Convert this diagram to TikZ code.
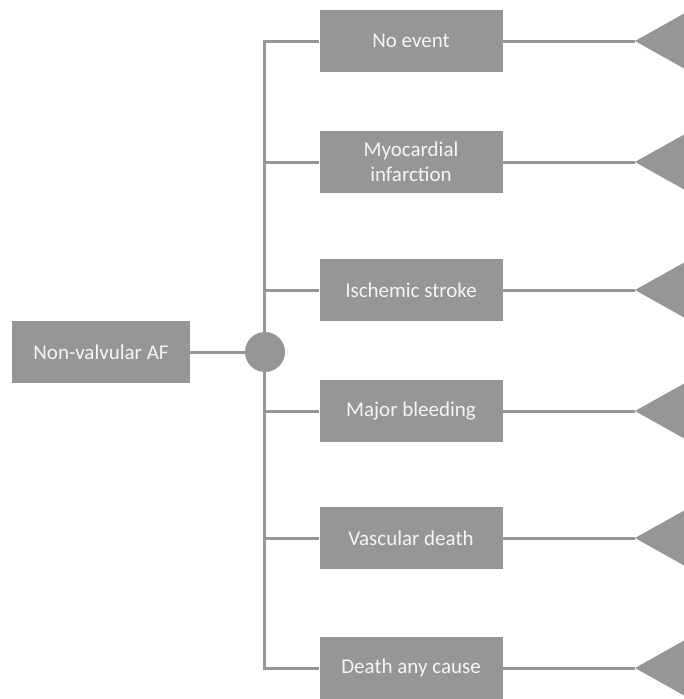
\documentclass[tikz,border=0pt]{standalone}
\usepackage{fontspec}
\setmainfont{Carlito}
\definecolor{boxgray}{RGB}{150,150,150}
\definecolor{txtwhite}{RGB}{245,245,245}
\begin{document}
\begin{tikzpicture}[x=1pt,y=-1pt,
  evbox/.style={fill=boxgray,draw=none,text=txtwhite,minimum width=183pt,minimum height=62pt,align=center,font=\fontsize{21}{25}\selectfont,inner sep=0pt},
  conn/.style={draw=boxgray,line width=3pt},
  term/.style={fill=boxgray,draw=none}]
\useasboundingbox (0,0) rectangle (683,699);
\node[evbox,minimum width=178pt] (root) at (101,352) {Non-valvular AF};
\node[fill=boxgray,circle,minimum size=40pt,inner sep=0pt] (chance) at (265,352) {};
\draw[conn] (root.east) -- (chance.west);
\coordinate (top) at (264,41);
\coordinate (bot) at (264,668);
\draw[conn] (top) -- (bot);
\foreach \name/\y/\txt in {e1/41/No event, e2/162/{Myocardial\\infarction}, e3/290/Ischemic stroke, e4/411/Major bleeding, e5/538/Vascular death, e6/668/Death any cause}{
  \node[evbox] (\name) at (411,\y) {\txt};
  \coordinate (j\name) at (262.5,\y);
  \coordinate (t\name) at (635,\y);
  \draw[conn] (j\name) -- (\name.west);
  \draw[conn] (\name.east) -- (t\name);
  \fill[boxgray] (t\name) -- ++(50,-28) -- ++(0,56) -- cycle;
}
\end{tikzpicture}
\end{document}
